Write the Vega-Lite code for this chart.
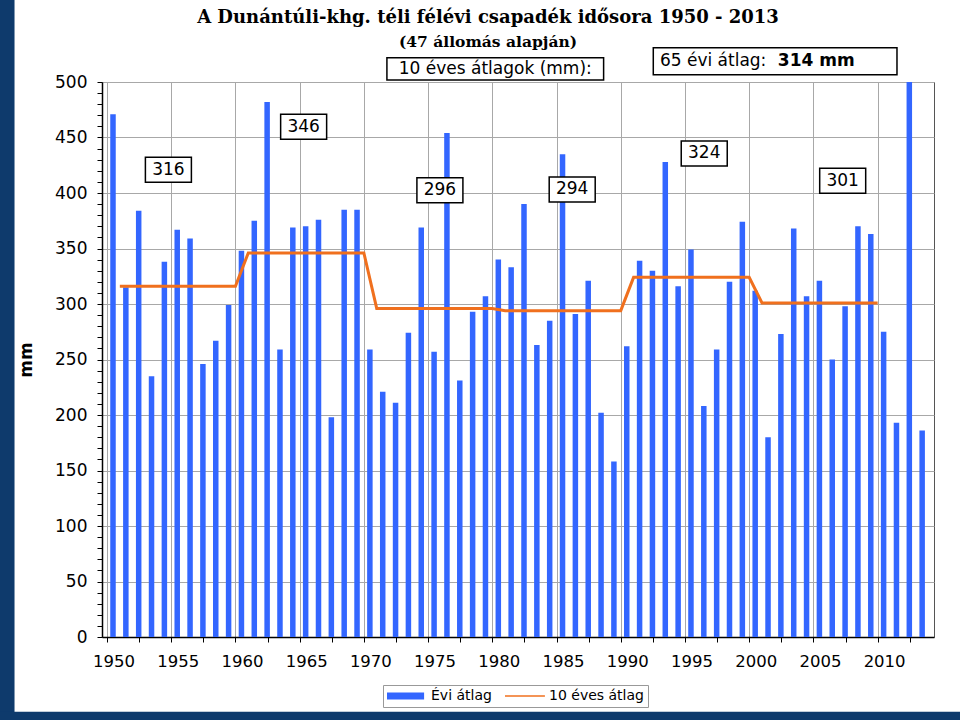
{
  "$schema": "https://vega.github.io/schema/vega-lite/v6.json",
  "width": 832,
  "height": 555,
  "autosize": {"type": "none"},
  "padding": {"left": 102, "top": 82, "right": 26, "bottom": 83},
  "background": "white",
  "config": {
    "view": {"stroke": "#555", "strokeWidth": 1},
    "font": "DejaVu Sans"
  },
  "title": {
    "text": "A Dunántúli-khg. téli félévi csapadék idősora 1950 - 2013",
    "subtitle": "(47 állomás alapján)",
    "frame": "group",
    "font": "DejaVu Serif",
    "fontSize": 18,
    "fontWeight": "bold",
    "color": "black",
    "subtitleFont": "DejaVu Serif",
    "subtitleFontSize": 15.5,
    "subtitleFontWeight": "bold",
    "subtitleColor": "black",
    "subtitlePadding": 8,
    "anchor": "middle",
    "dx": -30,
    "offset": -52
  },
  "datasets": {
    "annual": [
      {"year": 1950, "precip": 471, "avg10": null},
      {"year": 1951, "precip": 315, "avg10": 316},
      {"year": 1952, "precip": 384, "avg10": 316},
      {"year": 1953, "precip": 235, "avg10": 316},
      {"year": 1954, "precip": 338, "avg10": 316},
      {"year": 1955, "precip": 367, "avg10": 316},
      {"year": 1956, "precip": 359, "avg10": 316},
      {"year": 1957, "precip": 246, "avg10": 316},
      {"year": 1958, "precip": 267, "avg10": 316},
      {"year": 1959, "precip": 299, "avg10": 316},
      {"year": 1960, "precip": 348, "avg10": 316},
      {"year": 1961, "precip": 375, "avg10": 346},
      {"year": 1962, "precip": 482, "avg10": 346},
      {"year": 1963, "precip": 259, "avg10": 346},
      {"year": 1964, "precip": 369, "avg10": 346},
      {"year": 1965, "precip": 370, "avg10": 346},
      {"year": 1966, "precip": 376, "avg10": 346},
      {"year": 1967, "precip": 198, "avg10": 346},
      {"year": 1968, "precip": 385, "avg10": 346},
      {"year": 1969, "precip": 385, "avg10": 346},
      {"year": 1970, "precip": 259, "avg10": 346},
      {"year": 1971, "precip": 221, "avg10": 296},
      {"year": 1972, "precip": 211, "avg10": 296},
      {"year": 1973, "precip": 274, "avg10": 296},
      {"year": 1974, "precip": 369, "avg10": 296},
      {"year": 1975, "precip": 257, "avg10": 296},
      {"year": 1976, "precip": 454, "avg10": 296},
      {"year": 1977, "precip": 231, "avg10": 296},
      {"year": 1978, "precip": 293, "avg10": 296},
      {"year": 1979, "precip": 307, "avg10": 296},
      {"year": 1980, "precip": 340, "avg10": 296},
      {"year": 1981, "precip": 333, "avg10": 294},
      {"year": 1982, "precip": 390, "avg10": 294},
      {"year": 1983, "precip": 263, "avg10": 294},
      {"year": 1984, "precip": 285, "avg10": 294},
      {"year": 1985, "precip": 435, "avg10": 294},
      {"year": 1986, "precip": 291, "avg10": 294},
      {"year": 1987, "precip": 321, "avg10": 294},
      {"year": 1988, "precip": 202, "avg10": 294},
      {"year": 1989, "precip": 158, "avg10": 294},
      {"year": 1990, "precip": 262, "avg10": 294},
      {"year": 1991, "precip": 339, "avg10": 324},
      {"year": 1992, "precip": 330, "avg10": 324},
      {"year": 1993, "precip": 428, "avg10": 324},
      {"year": 1994, "precip": 316, "avg10": 324},
      {"year": 1995, "precip": 349, "avg10": 324},
      {"year": 1996, "precip": 208, "avg10": 324},
      {"year": 1997, "precip": 259, "avg10": 324},
      {"year": 1998, "precip": 320, "avg10": 324},
      {"year": 1999, "precip": 374, "avg10": 324},
      {"year": 2000, "precip": 312, "avg10": 324},
      {"year": 2001, "precip": 180, "avg10": 301},
      {"year": 2002, "precip": 273, "avg10": 301},
      {"year": 2003, "precip": 368, "avg10": 301},
      {"year": 2004, "precip": 307, "avg10": 301},
      {"year": 2005, "precip": 321, "avg10": 301},
      {"year": 2006, "precip": 250, "avg10": 301},
      {"year": 2007, "precip": 298, "avg10": 301},
      {"year": 2008, "precip": 370, "avg10": 301},
      {"year": 2009, "precip": 363, "avg10": 301},
      {"year": 2010, "precip": 275, "avg10": 301},
      {"year": 2011, "precip": 193, "avg10": null},
      {"year": 2012, "precip": 515, "avg10": null},
      {"year": 2013, "precip": 186, "avg10": null}
    ],
    "decades": [
      {"period": "1951-1960", "avg": 316, "lx": 1954.78, "ly": 420.9},
      {"period": "1961-1970", "avg": 346, "lx": 1965.31, "ly": 459.6},
      {"period": "1971-1980", "avg": 296, "lx": 1975.92, "ly": 402.5},
      {"period": "1981-1990", "avg": 294, "lx": 1986.22, "ly": 403.2},
      {"period": "1991-2000", "avg": 324, "lx": 1996.5, "ly": 435.6},
      {"period": "2001-2010", "avg": 301, "lx": 2007.28, "ly": 411.0}
    ]
  },
  "layer": [
    {
      "data": {"name": "annual"},
      "mark": {"type": "bar", "width": 5.5, "xOffset": 6, "clip": true},
      "encoding": {
        "x": {
          "field": "year",
          "type": "quantitative",
          "scale": {"domain": [1950, 2014], "nice": false, "zero": false},
          "axis": {
            "title": null,
            "values": [1950, 1952.5, 1955, 1957.5, 1960, 1962.5, 1965, 1967.5, 1970, 1972.5, 1975, 1977.5, 1980, 1982.5, 1985, 1987.5, 1990, 1992.5, 1995, 1997.5, 2000, 2002.5, 2005, 2007.5, 2010, 2012.5],
            "tickCount": 200,
            "labelExpr": "datum.value % 5 === 0 ? format(datum.value, 'd') : ''",
            "labelOffset": 6.5,
            "labelFlush": false,
            "labelBound": false,
            "labelOverlap": false,
            "labelFont": "DejaVu Sans",
            "labelFontSize": 16.5,
            "labelColor": "black",
            "labelPadding": 11,
            "tickSize": 5,
            "tickColor": "black",
            "domainColor": "black",
            "domainWidth": 1.5,
            "grid": true,
            "gridColor": "#a8a8a8",
            "gridOpacity": {"condition": {"test": "datum.value % 5 === 0", "value": 1}, "value": 0}
          }
        },
        "y": {
          "field": "precip",
          "type": "quantitative",
          "scale": {"domain": [0, 500], "nice": false, "zero": true},
          "axis": {
            "title": "mm",
            "titleFont": "DejaVu Sans",
            "titleFontSize": 17,
            "titleFontWeight": "bold",
            "titleColor": "black",
            "titlePadding": 19,
            "values": [0, 10, 20, 30, 40, 50, 60, 70, 80, 90, 100, 110, 120, 130, 140, 150, 160, 170, 180, 190, 200, 210, 220, 230, 240, 250, 260, 270, 280, 290, 300, 310, 320, 330, 340, 350, 360, 370, 380, 390, 400, 410, 420, 430, 440, 450, 460, 470, 480, 490, 500],
            "tickCount": 200,
            "labelExpr": "datum.value % 50 === 0 ? format(datum.value, 'd') : ''",
            "labelFont": "DejaVu Sans",
            "labelFontSize": 17,
            "labelColor": "black",
            "labelPadding": 10,
            "labelOverlap": false,
            "labelFlush": false,
            "labelBound": false,
            "tickSize": 5,
            "tickColor": "black",
            "domainColor": "black",
            "domainWidth": 1.5,
            "grid": true,
            "gridColor": "#a8a8a8",
            "gridOpacity": {"condition": {"test": "datum.value % 50 === 0", "value": 1}, "value": 0}
          }
        },
        "color": {
          "datum": "Évi átlag",
          "type": "nominal",
          "scale": {"domain": ["Évi átlag", "10 éves átlag"], "range": ["#3366ff", "#f0701e"]},
          "legend": {
            "title": null,
            "orient": "none",
            "legendX": 281,
            "legendY": 603,
            "direction": "horizontal",
            "strokeColor": "#999",
            "fillColor": "white",
            "padding": 4,
            "labelFont": "DejaVu Sans",
            "labelFontSize": 14,
            "labelColor": "black",
            "labelOffset": 30,
            "columnPadding": 13,
            "symbolSize": 196,
            "symbolStrokeWidth": 0,
            "symbolType": "M-1,-0.5H4.3V0.5H-1Z",
            "symbolOpacity": 1,
            "encode": {
              "symbols": {
                "update": {
                  "shape": {"signal": "datum.value === 'Évi átlag' ? 'M-1,-0.5H4.3V0.5H-1Z' : 'M-1,-0.107H4.7V0.107H-1Z'"},
                  "fill": {"signal": "scale('color', datum.value)"},
                  "strokeWidth": {"value": 0},
                  "opacity": {"value": 1}
                }
              }
            }
          }
        }
      }
    },
    {
      "data": {"name": "annual"},
      "transform": [{"filter": "isValid(datum.avg10)"}],
      "mark": {"type": "line", "strokeWidth": 3, "clip": true},
      "encoding": {
        "x": {"field": "year", "type": "quantitative"},
        "y": {"field": "avg10", "type": "quantitative"},
        "color": {"datum": "10 éves átlag", "type": "nominal"}
      }
    },
    {
      "data": {"name": "decades"},
      "mark": {"type": "point", "shape": "M-1,-0.5435H1V0.5435H-1Z", "size": 2116, "filled": true, "fill": "white", "stroke": "black", "strokeWidth": 1.5, "opacity": 1},
      "encoding": {
        "x": {"field": "lx", "type": "quantitative"},
        "y": {"field": "ly", "type": "quantitative"}
      }
    },
    {
      "data": {"name": "decades"},
      "mark": {"type": "text", "font": "DejaVu Sans", "fontSize": 17, "color": "black", "align": "center", "baseline": "middle"},
      "encoding": {
        "x": {"field": "lx", "type": "quantitative"},
        "y": {"field": "ly", "type": "quantitative"},
        "text": {"field": "avg", "type": "quantitative"}
      }
    },
    {
      "data": {"values": [{"label": "10 éves átlagok (mm):"}]},
      "layer": [
        {
          "mark": {"type": "point", "shape": "M-1,-0.1029H1V0.1029H-1Z", "size": 46959, "filled": true, "fill": "white", "stroke": "black", "strokeWidth": 1.5, "opacity": 1}
        },
        {
          "mark": {"type": "text", "font": "DejaVu Sans", "fontSize": 17, "color": "black", "align": "center", "baseline": "middle"},
          "encoding": {"text": {"field": "label"}}
        }
      ],
      "encoding": {
        "x": {"datum": 1980.23, "type": "quantitative"},
        "y": {"datum": 511.9, "type": "quantitative"}
      }
    },
    {
      "data": {"values": [{"label": "65 évi átlag:", "value": "314 mm"}]},
      "layer": [
        {
          "mark": {"type": "point", "shape": "M-1,-0.1108H1V0.1108H-1Z", "size": 59390, "filled": true, "fill": "white", "stroke": "black", "strokeWidth": 1.5, "opacity": 1},
          "encoding": {
            "x": {"datum": 2002.02, "type": "quantitative"},
            "y": {"datum": 518.7, "type": "quantitative"}
          }
        },
        {
          "mark": {"type": "text", "font": "DejaVu Sans", "fontSize": 17, "color": "black", "align": "left", "baseline": "middle"},
          "encoding": {
            "x": {"datum": 1993.05, "type": "quantitative"},
            "y": {"datum": 518.7, "type": "quantitative"},
            "text": {"field": "label"}
          }
        },
        {
          "mark": {"type": "text", "font": "DejaVu Sans", "fontSize": 17, "fontWeight": "bold", "color": "black", "align": "left", "baseline": "middle"},
          "encoding": {
            "x": {"datum": 2002.23, "type": "quantitative"},
            "y": {"datum": 518.7, "type": "quantitative"},
            "text": {"field": "value"}
          }
        }
      ]
    },
    {
      "data": {"values": [{"part": "left"}]},
      "mark": {"type": "rect", "color": "#0e3a6c"},
      "encoding": {
        "x": {"datum": 1935, "type": "quantitative"},
        "x2": {"datum": 1942.8},
        "y": {"datum": -110, "type": "quantitative"},
        "y2": {"datum": 575}
      }
    },
    {
      "data": {"values": [{"part": "bottom"}]},
      "mark": {"type": "rect", "color": "#0e3a6c"},
      "encoding": {
        "x": {"datum": 1935, "type": "quantitative"},
        "x2": {"datum": 2030},
        "y": {"datum": -67.3, "type": "quantitative"},
        "y2": {"datum": -110}
      }
    }
  ]
}
